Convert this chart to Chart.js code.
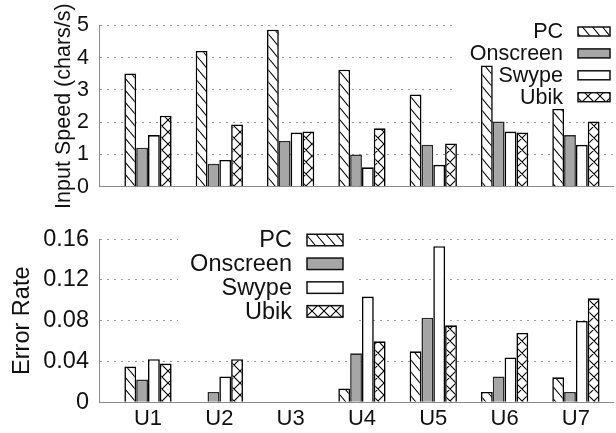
<!DOCTYPE html>
<html>
<head>
<meta charset="utf-8">
<script src="https://cdn.jsdelivr.net/npm/chart.js@4/dist/chart.umd.min.js"></script>
<style>
  html, body { margin: 0; padding: 0; background: #fff; }
  #wrap { position: relative; width: 616px; height: 433px; }
  canvas { position: absolute; left: 0; }
  #c1 { top: 0; }
  #c2 { top: 215px; }
</style>
</head>
<body>
<div id="wrap">
  <canvas id="c1" width="616" height="215"></canvas>
  <canvas id="c2" width="616" height="218"></canvas>
</div>
<script>
// ---- data ----
const categories = ['U1', 'U2', 'U3', 'U4', 'U5', 'U6', 'U7'];
const seriesNames = ['PC', 'Onscreen', 'Swype', 'Ubik'];

const speedPC       = [3.51, 4.21, 4.87, 3.63, 2.86, 3.76, 2.41];
const speedOnscreen = [1.21, 0.71, 1.42, 1.00, 1.30, 2.02, 1.60];
const speedSwype    = [1.60, 0.83, 1.68, 0.60, 0.68, 1.71, 1.30];
const speedUbik     = [2.20, 1.93, 1.71, 1.81, 1.34, 1.68, 2.02];

const errPC         = [0.035, 0, 0, 0.0136, 0.050, 0.0102, 0.0245];
const errOnscreen   = [0.0223, 0.0102, 0, 0.048, 0.083, 0.0254, 0.0102];
const errSwype      = [0.0423, 0.0254, 0, 0.1037, 0.153, 0.044, 0.0798];
const errUbik       = [0.038, 0.0423, 0, 0.0598, 0.0755, 0.068, 0.1019];

const speedTicks = [0, 1, 2, 3, 4, 5];
const errTicks   = [0, 0.04, 0.08, 0.12, 0.16];
const errTickLabels = ['0', '0.04', '0.08', '0.12', '0.16'];

// ---- styles ----
const FONT = '"Liberation Sans", Arial, Helvetica, sans-serif';
const TXT = '#111';
const AXIS = '#8a8a8a';
const GRID = '#9a9a9a';

function makePattern(w, h, cross) {
  const c = document.createElement('canvas');
  c.width = w; c.height = h;
  const g = c.getContext('2d');
  g.fillStyle = '#fff';
  g.fillRect(0, 0, w, h);
  g.strokeStyle = '#000';
  g.lineWidth = 1.1;
  g.beginPath();
  for (const dx of [-w, 0, w]) {
    g.moveTo(dx, 0); g.lineTo(dx + w, h);
    if (cross) { g.moveTo(dx + w, 0); g.lineTo(dx, h); }
  }
  g.stroke();
  return c;
}

function fills(ctx) {
  return [
    ctx.createPattern(makePattern(10, 12, false), 'repeat'),
    '#a6a6a6',
    '#ffffff',
    ctx.createPattern(makePattern(12, 12, true), 'repeat')
  ];
}

const boxLegend = {
  id: 'boxLegend',
  beforeDatasetsDraw(chart, args, o) {
    const ctx = chart.ctx;
    ctx.save();
    ctx.fillStyle = '#fff';
    ctx.fillRect(o.blank[0], o.blank[1], o.blank[2], o.blank[3]);
    ctx.restore();
  },
  afterDatasetsDraw(chart, args, o) {
    const ctx = chart.ctx;
    ctx.save();
    ctx.font = o.fontSize + 'px ' + FONT;
    ctx.textAlign = 'right';
    ctx.textBaseline = 'middle';
    chart.data.datasets.forEach((ds, i) => {
      const y = o.firstY + i * o.gap;
      ctx.fillStyle = TXT;
      ctx.fillText(ds.label, o.textRight, y + 1);
      ctx.fillStyle = ds.backgroundColor;
      ctx.fillRect(o.boxX, y - o.boxH / 2, o.boxW, o.boxH);
      ctx.strokeStyle = '#111';
      ctx.lineWidth = 1.5;
      ctx.strokeRect(o.boxX, y - o.boxH / 2, o.boxW, o.boxH);
    });
    ctx.restore();
  }
};

function build(canvasId, seriesArrays, yTicks, yLabels, yMax, yTitle, opt) {
  const canvas = document.getElementById(canvasId);
  const ctx = canvas.getContext('2d');
  const f = fills(ctx);
  const datasets = seriesArrays.map((arr, i) => ({
    label: seriesNames[i],
    data: arr.map((v, k) => ({ x: k, y: v })),
    backgroundColor: f[i],
    borderColor: i === 1 ? '#2a2a2a' : '#000',
    borderWidth: 1.6,
    borderSkipped: 'start',
    categoryPercentage: 0.663,
    barPercentage: 1.0
  }));
  return new Chart(ctx, {
    type: 'bar',
    data: { datasets },
    plugins: [boxLegend],
    options: {
      responsive: false,
      devicePixelRatio: 1,
      animation: false,
      events: [],
      layout: { padding: opt.padding },
      plugins: {
        legend: { display: false },
        tooltip: { enabled: false },
        boxLegend: opt.legend
      },
      scales: {
        x: {
          type: 'linear',
          offset: false,
          min: -0.687,
          max: 6.52,
          grid: { display: false, drawTicks: false, offset: false },
          border: { display: true, color: AXIS, width: 1 },
          afterBuildTicks: s => { s.ticks = categories.map((c, i) => ({ value: i })); },
          afterFit: s => { s.height = opt.xHeight; },
          ticks: {
            display: opt.showX,
            autoSkip: false,
            maxRotation: 0,
            padding: 3,
            color: TXT,
            font: { family: FONT, size: opt.xFont },
            callback: v => categories[v] !== undefined ? categories[v] : ''
          }
        },
        y: {
          type: 'linear',
          min: 0,
          max: yMax,
          afterBuildTicks: s => { s.ticks = yTicks.map(v => ({ value: v })); },
          afterFit: s => { s.width = 99; },
          grid: {
            drawTicks: false,
            color: c => (c.tick && c.tick.value === 0) ? 'rgba(0,0,0,0)' : GRID,
            lineWidth: 1
          },
          border: { display: true, color: AXIS, width: 1, dash: [2, 5] },
          ticks: {
            padding: 10,
            color: TXT,
            font: { family: FONT, size: opt.yFont },
            callback: (v) => { const k = yTicks.indexOf(v); return k >= 0 ? yLabels[k] : ''; }
          },
          title: {
            display: true,
            text: yTitle,
            color: TXT,
            font: { family: FONT, size: opt.yFont },
            padding: { top: opt.titlePad, bottom: 0 }
          }
        }
      }
    }
  });
}

build('c1', [speedPC, speedOnscreen, speedSwype, speedUbik],
  speedTicks, speedTicks.map(String), 5, 'Input Speed (chars/s)', {
    padding: { left: 0, right: 3, top: 25.5, bottom: 28.3 },
    xHeight: 0, showX: false, xFont: 22, yFont: 21.5, titlePad: 51,
    legend: { blank: [457, 18, 159, 90], textRight: 563, boxX: 578, boxW: 32, boxH: 9,
              firstY: 31.5, gap: 21.9, fontSize: 21.5 }
  });

build('c2', [errPC, errOnscreen, errSwype, errUbik],
  errTicks, errTickLabels, 0.16, 'Error Rate', {
    padding: { left: 0, right: 3, top: 11, bottom: 0 },
    xHeight: 30.7, showX: true, xFont: 22, yFont: 23.5, titlePad: 8,
    legend: { blank: [178, 13, 179, 97], textRight: 292, boxX: 307, boxW: 36, boxH: 11.5,
              firstY: 25, gap: 23.8, fontSize: 23.5 }
  });
</script>
</body>
</html>
